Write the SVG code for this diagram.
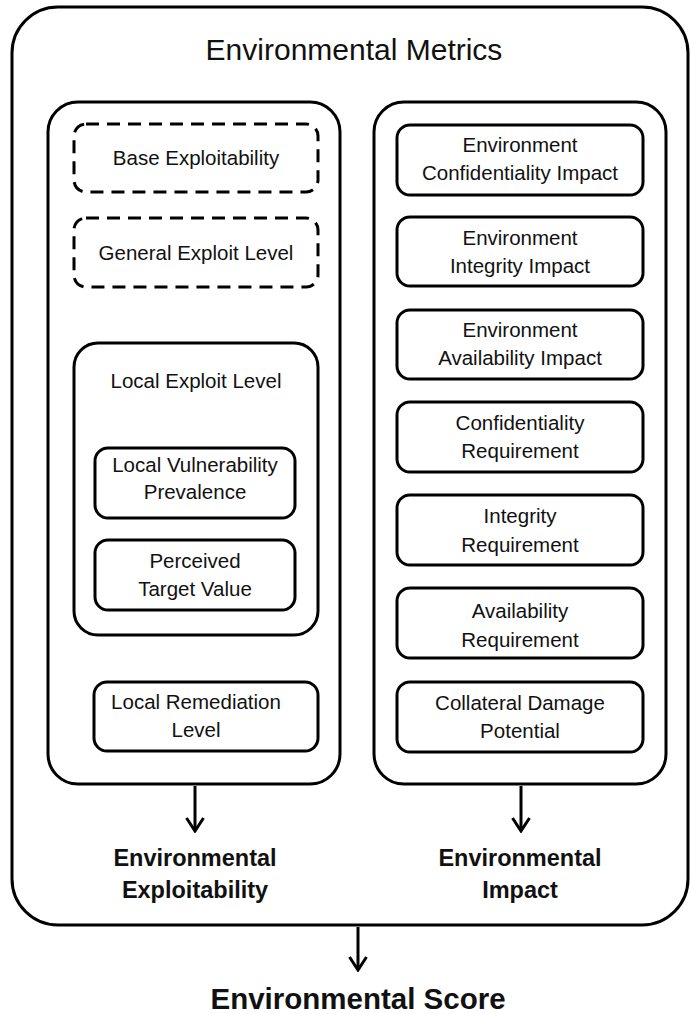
<svg xmlns="http://www.w3.org/2000/svg" width="691" height="1014" viewBox="0 0 691 1014">
<style>
.box{fill:#fff;stroke:#000;stroke-width:3}
.dash{fill:none;stroke:#000;stroke-width:3;stroke-dasharray:13 8}
.t{font-family:"Liberation Sans",Arial,sans-serif;font-size:20.5px;fill:#111;text-anchor:middle}
.b{font-family:"Liberation Sans",Arial,sans-serif;font-size:23.5px;font-weight:bold;fill:#111;text-anchor:middle}
.conn{stroke:#000;stroke-width:3;fill:none}
</style>
<defs>
<marker id="arr" viewBox="-16 -11 18 22" markerWidth="18" markerHeight="22" refX="0" refY="0" markerUnits="userSpaceOnUse" orient="auto">
<path d="M-13,-8.5 L0,0 L-13,8.5" fill="none" stroke="#000" stroke-width="3"/>
</marker>
</defs>
<rect width="691" height="1014" fill="#fff"/>
<g id="environmental-metrics">
<rect class="box" x="12" y="7" width="676" height="918" rx="46"/>
<text x="354" y="60" class="t" style="font-size:30px">Environmental Metrics</text>
</g>
<g id="exploitability-column">
<rect class="box" x="48" y="102" width="292" height="682" rx="30"/>
</g>
<g id="impact-column">
<rect class="box" x="374" y="102" width="292" height="682" rx="30"/>
</g>
<g id="base-exploitability">
<rect class="dash" x="74" y="124" width="244" height="68" rx="12"/>
<text x="196" y="165" class="t">Base Exploitability</text>
</g>
<g id="general-exploit-level">
<rect class="dash" x="74" y="218" width="244" height="69" rx="12"/>
<text x="196" y="260" class="t">General Exploit Level</text>
</g>
<g id="local-exploit-level">
<rect class="box" x="74" y="343" width="244" height="292" rx="24"/>
<text x="196" y="388" class="t">Local Exploit Level</text>
</g>
<g id="local-vulnerability-prevalence">
<rect class="box" x="95" y="448" width="200" height="70" rx="13"/>
<text x="195" y="472" class="t">Local Vulnerability</text>
<text x="195" y="499" class="t">Prevalence</text>
</g>
<g id="perceived-target-value">
<rect class="box" x="95" y="540" width="200" height="70" rx="13"/>
<text x="195" y="568" class="t">Perceived</text>
<text x="195" y="596" class="t">Target Value</text>
</g>
<g id="local-remediation-level">
<rect class="box" x="94" y="682" width="224" height="69" rx="13"/>
<text x="196" y="709" class="t">Local Remediation</text>
<text x="196" y="737" class="t">Level</text>
</g>
<g id="env-confidentiality-impact">
<rect class="box" x="397" y="125" width="246" height="70" rx="13"/>
<text x="520" y="152" class="t">Environment</text>
<text x="520" y="180" class="t">Confidentiality Impact</text>
</g>
<g id="env-integrity-impact">
<rect class="box" x="397" y="217" width="246" height="69" rx="13"/>
<text x="520" y="245" class="t">Environment</text>
<text x="520" y="273" class="t">Integrity Impact</text>
</g>
<g id="env-availability-impact">
<rect class="box" x="397" y="310" width="246" height="69" rx="13"/>
<text x="520" y="337" class="t">Environment</text>
<text x="520" y="365" class="t">Availability Impact</text>
</g>
<g id="confidentiality-requirement">
<rect class="box" x="397" y="402" width="246" height="70" rx="13"/>
<text x="520" y="430" class="t">Confidentiality</text>
<text x="520" y="458" class="t">Requirement</text>
</g>
<g id="integrity-requirement">
<rect class="box" x="397" y="495" width="246" height="70" rx="13"/>
<text x="520" y="523" class="t">Integrity</text>
<text x="520" y="552" class="t">Requirement</text>
</g>
<g id="availability-requirement">
<rect class="box" x="397" y="588" width="246" height="70" rx="13"/>
<text x="520" y="618" class="t">Availability</text>
<text x="520" y="647" class="t">Requirement</text>
</g>
<g id="collateral-damage-potential">
<rect class="box" x="397" y="682" width="246" height="70" rx="13"/>
<text x="520" y="710" class="t">Collateral Damage</text>
<text x="520" y="738" class="t">Potential</text>
</g>
<g id="environmental-exploitability">
<text x="195" y="866" class="b">Environmental</text>
<text x="195" y="898" class="b">Exploitability</text>
</g>
<g id="environmental-impact">
<text x="520" y="866" class="b">Environmental</text>
<text x="520" y="898" class="b">Impact</text>
</g>
<g id="environmental-score">
<text x="358" y="1009" class="b" style="font-size:29.5px">Environmental Score</text>
</g>
<g id="connectors">
<line class="conn" x1="195" y1="786" x2="195" y2="831" marker-end="url(#arr)"/>
<line class="conn" x1="521" y1="786" x2="521" y2="831" marker-end="url(#arr)"/>
<line class="conn" x1="358" y1="927" x2="358" y2="970" marker-end="url(#arr)"/>
</g>
</svg>
